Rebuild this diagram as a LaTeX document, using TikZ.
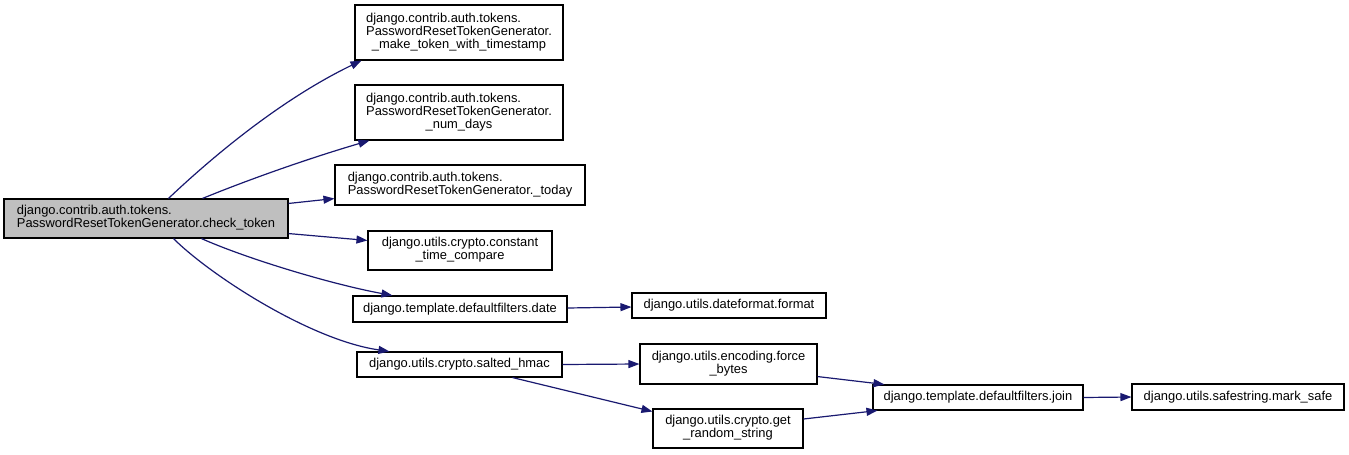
\documentclass[tikz,border=0pt]{standalone}
\usepackage{fontspec}
\setmainfont{Liberation Sans}
\usetikzlibrary{arrows.meta,calc}
\definecolor{edgec}{HTML}{191970}
\definecolor{mainfill}{HTML}{BFBFBF}
\begin{document}
\begin{tikzpicture}[x=1pt,y=-1pt,
 box/.style={draw=black,line width=1.1pt,fill=white,inner sep=0pt,font=\fontsize{12.9}{12.2}\selectfont,align=center},
 edge/.style={draw=edgec,line width=1.2pt,-{Triangle[length=11pt,width=8pt]}}]
\useasboundingbox (0,0) rectangle (1349,455);
\fill[white] (0,0) rectangle (1349,455);
\node[box,fill=mainfill,minimum width=284pt,minimum height=39pt] (main) at (146,218.5)
 {\begin{tabular}{@{}l@{}}django.contrib.auth.tokens.\\PasswordResetTokenGenerator.check\_token\end{tabular}};
\node[box,minimum width=208pt,minimum height=55pt] (b1) at (459,32.5)
 {\begin{tabular}{@{}l@{}}django.contrib.auth.tokens.\\PasswordResetTokenGenerator.\\\multicolumn{1}{@{}c@{}}{\_make\_token\_with\_timestamp}\end{tabular}};
\node[box,minimum width=208pt,minimum height=55pt] (b2) at (459,112.5)
 {\begin{tabular}{@{}l@{}}django.contrib.auth.tokens.\\PasswordResetTokenGenerator.\\\multicolumn{1}{@{}c@{}}{\_num\_days}\end{tabular}};
\node[box,minimum width=250pt,minimum height=40pt] (b3) at (460,185)
 {\begin{tabular}{@{}l@{}}django.contrib.auth.tokens.\\PasswordResetTokenGenerator.\_today\end{tabular}};
\node[box,minimum width=184pt,minimum height=39pt] (b4) at (460,250.5)
 {\begin{tabular}{@{}c@{}}django.utils.crypto.constant\\\_time\_compare\end{tabular}};
\node[box,minimum width=214pt,minimum height=26pt] (b5) at (460,309) {django.template.defaultfilters.date};
\node[box,minimum width=205pt,minimum height=25pt] (b6) at (459.5,364.5) {django.utils.crypto.salted\_hmac};
\node[box,minimum width=194pt,minimum height=25pt] (b7) at (729,305.5) {django.utils.dateformat.format};
\node[box,minimum width=177pt,minimum height=40pt] (b8) at (728.5,364)
 {\begin{tabular}{@{}c@{}}django.utils.encoding.force\\\_bytes\end{tabular}};
\node[box,minimum width=150pt,minimum height=39pt] (b9) at (728,428.5)
 {\begin{tabular}{@{}c@{}}django.utils.crypto.get\\\_random\_string\end{tabular}};
\node[box,minimum width=210pt,minimum height=25pt] (b10) at (978,397.5) {django.template.defaultfilters.join};
\node[box,minimum width=212pt,minimum height=26pt] (b11) at (1238,397) {django.utils.safestring.mark\_safe};
% edges
\draw[edge] ($(main.north west)+(165,0)$) .. controls (225,145) and (290,95) .. ($(b1.south west)+(7,0)$);
\draw[edge] ($(main.north west)+(199,0)$) .. controls (260,175) and (320,155) .. ($(b2.south west)+(15,0)$);
\draw[edge] ($(main.north east)+(0,5)$) -- ($(b3.south west)+(0,-7)$);
\draw[edge] ($(main.south east)+(0,-5)$) -- ($(b4.north west)+(0,10)$);
\draw[edge] ($(main.south west)+(198,0)$) .. controls (245,258) and (330,284) .. ($(b5.north west)+(40,0)$);
\draw[edge] ($(main.south west)+(170,0)$) .. controls (210,275) and (310,340) .. ($(b6.north west)+(33,0)$);
\draw[edge] ($(b5.east)+(0,-1)$) -- ($(b7.west)+(0,1.5)$);
\draw[edge] (b6.east) -- (b8.west);
\draw[edge] ($(b6.south west)+(156,0)$) -- ($(b9.west)+(0,-17)$);
\draw[edge] ($(b8.south east)+(0,-8)$) -- ($(b10.north west)+(12,0)$);
\draw[edge] ($(b9.east)+(0,-9.5)$) -- ($(b10.south west)+(5,0)$);
\draw[edge] (b10.east) -- (b11.west);
\end{tikzpicture}
\end{document}
